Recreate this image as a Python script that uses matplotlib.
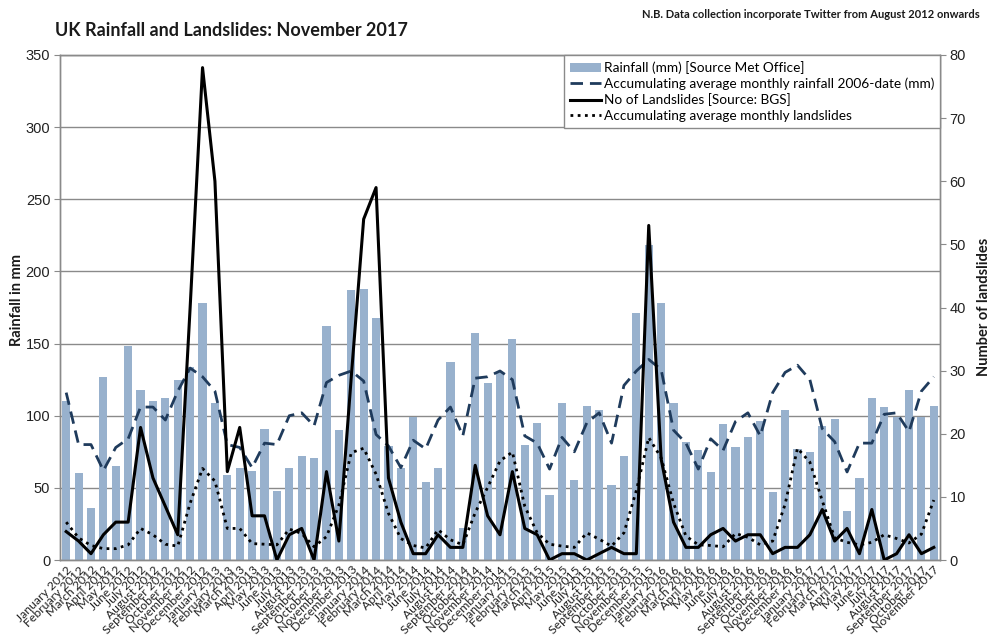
import matplotlib
matplotlib.use("Agg")
import matplotlib.pyplot as plt
from matplotlib.patches import Patch
from matplotlib.lines import Line2D
import numpy as np

month_names = ["January", "February", "March", "April", "May", "June", "July",
               "August", "September", "October", "November", "December"]
years = [2012, 2013, 2014, 2015, 2016, 2017]
labels = [f"{m} {y}" for y in years for m in month_names][:71]

rainfall = [110, 60, 36, 127, 65, 148, 118, 110, 112, 125, 134, 178,
            109, 59, 63.5, 62, 91, 48, 64, 72, 71, 162, 90, 187,
            188, 168, 79, 64, 99, 54, 64, 137, 22, 157, 123, 130,
            153, 80, 95, 45, 109, 55.5, 107, 104, 52, 72, 171, 218,
            178, 109, 82, 76, 61, 94, 78, 85, 96, 47, 104, 77,
            75, 93, 98, 34, 57, 112, 106, 99, 118, 99, 107]

rain_avg = [116, 80, 80, 62, 78, 84, 106, 106, 97, 117, 133, 127,
            117, 80, 78, 64, 81, 80, 100, 102, 93, 123, 128, 131,
            124, 87, 79, 64, 83, 77, 97, 106, 86, 126, 127, 131,
            125, 86, 81, 63, 85, 75, 95, 102, 81, 121, 131, 139,
            132, 90, 81, 63, 84, 76, 96, 102, 86, 116, 130, 135,
            125, 91, 82, 61, 81, 81, 101, 102, 89, 117, 127]

landslides = [4.5, 3, 1, 4, 6, 6, 21, 13, 8.5, 4, 40, 78,
              60, 14, 21, 7, 7, 0, 4, 5, 0, 14, 3, 29,
              54, 59, 13, 6, 1, 1, 4, 2, 2, 15, 7, 4,
              14, 5, 4, 0, 1, 1, 0, 1, 2, 1, 1, 53,
              16, 6, 2, 2, 4, 5, 3, 4, 4, 1, 2, 2,
              4, 8, 3, 5, 1, 8, 0, 1, 4, 1, 2]

slides_avg = [6, 3.5, 2.3, 1.8, 1.8, 2.4, 5, 4, 2.5, 2.2, 9, 14.5,
              12.5, 5, 5, 2.6, 2.5, 2.4, 4.9, 4.2, 2.1, 3.7, 8.7, 17,
              17.7, 13.6, 7.4, 3.4, 2.3, 1.9, 4.8, 3.2, 2.4, 7.5, 11.5, 15.7,
              17.1, 8.5, 4.3, 2.5, 2.2, 2, 4.3, 3.3, 2.2, 4.3, 11, 19.4,
              16.2, 9, 3.8, 2.4, 2.3, 2.1, 4.2, 3.6, 2.4, 3, 8.8, 17.7,
              15.5, 9.4, 3.5, 2.8, 2.4, 2.8, 4, 3.4, 2.7, 4.1, 9.5]

left_ticks = [0, 50, 100, 150, 200, 250, 300, 350]
right_ticks = [0, 10, 20, 30, 40, 50, 60, 70, 80]

TXT = ["Lato", "DejaVu Sans"]
NUM = ["Liberation Sans", "DejaVu Sans"]
GRID = "#8a8a8a"

fig = plt.figure(figsize=(9.93, 6.42), dpi=100)
ax = fig.add_axes([60/993, 1-560/642, 880/993, 505/642])
ax2 = ax.twinx()

x = np.arange(len(labels))
ax.set_axisbelow(True)
ax.yaxis.grid(True, color=GRID, lw=1.0)
ax.bar(x, rainfall, width=0.66, color="#98b1cd", zorder=2)
ax.plot(x, rain_avg, color="#1f3b5c", lw=2.0, ls=(0, (4.5, 2.5)), zorder=3)
ax2.plot(x, landslides, color="black", lw=2.2, zorder=3)
ax2.plot(x, slides_avg, color="black", lw=2.0, ls=(0, (1, 1.6)), zorder=3)

ax.set_xlim(-0.5, len(labels) - 0.5)
ax.set_ylim(0, 350)
ax2.set_ylim(0, 80)
ax.set_yticks(left_ticks)
ax2.set_yticks(right_ticks)
ax.set_xticks(x)
ax.set_xticklabels(labels, rotation=45, ha="right", rotation_mode="anchor",
                   fontsize=8.8, family=TXT, color="#222222")
ax.tick_params(axis="x", length=0, pad=3)
ax.tick_params(axis="y", length=4, color=GRID, labelsize=10.5, pad=3)
ax2.tick_params(axis="y", length=4, color=GRID, labelsize=10.5, pad=3)
for lab in ax.get_yticklabels() + ax2.get_yticklabels():
    lab.set_family(NUM)
    lab.set_color("#222222")

for a in (ax, ax2):
    for s in a.spines.values():
        s.set_color(GRID)
        s.set_linewidth(1.0)

fig.text(17/993, 1-300/642, "Rainfall in mm", rotation=90, fontsize=10.5,
         fontweight="bold", family=TXT, color="#1a1a1a", ha="center", va="center")
fig.text(984/993, 1-307/642, "Number of landslides", rotation=90, fontsize=10.5,
         fontweight="bold", family=TXT, color="#1a1a1a", ha="center", va="center")

fig.text(55/993, 1-30/642, "UK Rainfall and Landslides: November 2017",
         fontsize=13, fontweight="bold", family=TXT, color="#1a1a1a", va="center")
fig.text(980/993, 1-14/642, "N.B. Data collection incorporate Twitter from August 2012 onwards",
         fontsize=8, fontweight="bold", family=TXT, color="#1a1a1a", ha="right", va="center")

handles = [Patch(facecolor="#98b1cd", edgecolor="none"),
           Line2D([], [], color="#1f3b5c", lw=2.0, ls=(0, (4.5, 2.5))),
           Line2D([], [], color="black", lw=2.2),
           Line2D([], [], color="black", lw=2.0, ls=(0, (1, 1.6)))]
names = ["Rainfall (mm) [Source Met Office]",
         "Accumulating average monthly rainfall 2006-date (mm)",
         "No of Landslides [Source: BGS]",
         "Accumulating average monthly landslides"]
leg = ax2.legend(handles, names, loc="upper right", bbox_to_anchor=(1, 1),
                 borderaxespad=0, fancybox=False, framealpha=1,
                 prop={"family": TXT, "size": 9.8}, handlelength=2.3,
                 handletextpad=0.15, labelspacing=0.25, borderpad=0.45)
leg.get_frame().set_edgecolor(GRID)
leg.get_frame().set_linewidth(1.0)

fig.savefig("out.png", dpi=100)
